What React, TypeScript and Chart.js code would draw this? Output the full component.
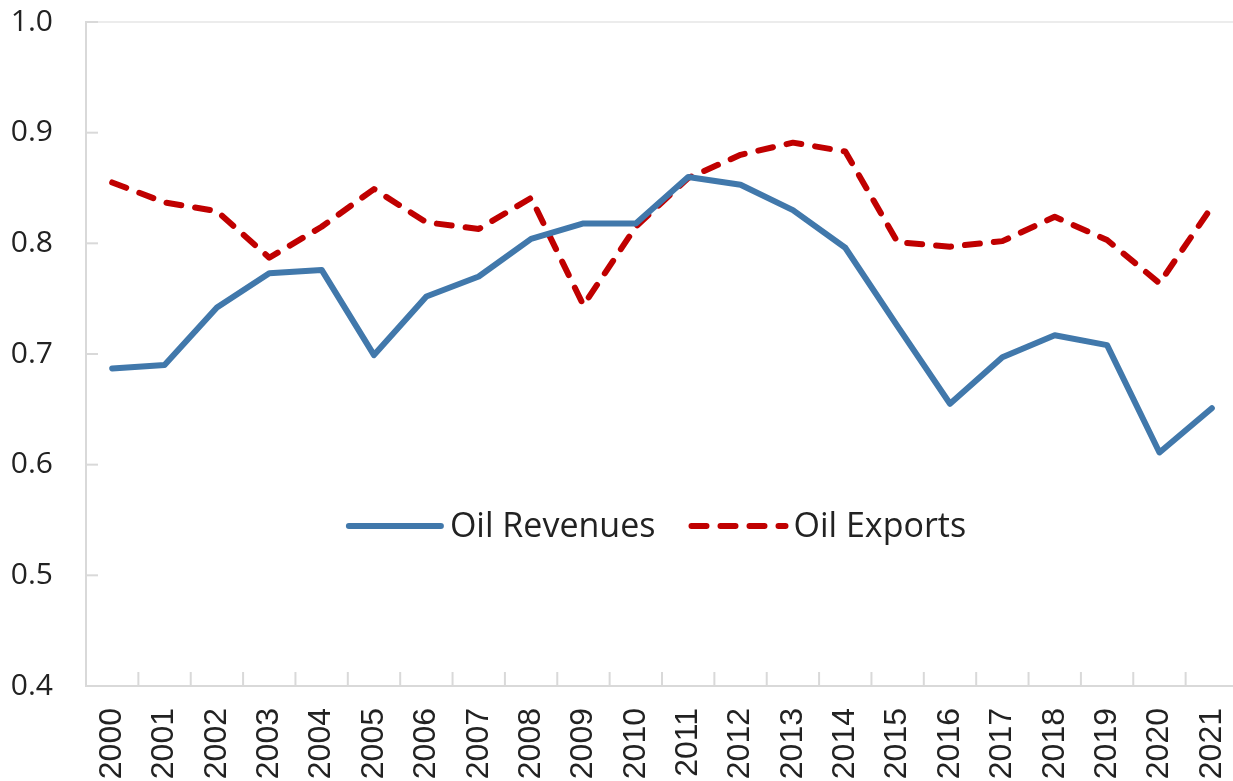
import React, { useEffect, useRef } from "react";
import { Chart, registerables } from "chart.js";

Chart.register(...registerables);

const years = [
  "2000", "2001", "2002", "2003", "2004", "2005", "2006", "2007", "2008", "2009", "2010",
  "2011", "2012", "2013", "2014", "2015", "2016", "2017", "2018", "2019", "2020", "2021",
];

const oilRevenues = [
  0.687, 0.690, 0.742, 0.773, 0.776, 0.699, 0.752, 0.770, 0.804, 0.818, 0.818,
  0.860, 0.853, 0.830, 0.796, 0.725, 0.655, 0.697, 0.717, 0.708, 0.611, 0.651,
];

const oilExports = [
  0.855, 0.837, 0.829, 0.787, 0.815, 0.849, 0.819, 0.813, 0.841, 0.744, 0.815,
  0.859, 0.880, 0.891, 0.883, 0.801, 0.797, 0.802, 0.824, 0.803, 0.764, 0.833,
];

const yMin = 0.4;
const yMax = 1.0;
const yStep = 0.1;

const seriesNames = ["Oil Revenues", "Oil Exports"];
const seriesColors = ["#4178ab", "#c00000"];

const AXIS_COLOR = "#d9d9d9";
const TEXT_COLOR = "#222222";

const decorPlugin = {
  id: "decor",
  beforeDatasetsDraw(chart: any) {
    const { ctx, chartArea, scales } = chart;
    const x = scales.x;
    const y = scales.y;
    ctx.save();
    // faint top border
    ctx.strokeStyle = "#ececec";
    ctx.lineWidth = 2;
    ctx.beginPath();
    ctx.moveTo(chartArea.left, chartArea.top);
    ctx.lineTo(chartArea.right + 10, chartArea.top);
    ctx.stroke();
    // inner ticks on y axis
    ctx.strokeStyle = AXIS_COLOR;
    ctx.lineWidth = 2;
    y.ticks.forEach((t: any) => {
      if (Math.abs(t.value - yMin) < 1e-9) return;
      const py = y.getPixelForValue(t.value);
      ctx.beginPath();
      ctx.moveTo(chartArea.left, py);
      ctx.lineTo(chartArea.left + 12, py);
      ctx.stroke();
    });
    // inner ticks on x axis at category boundaries
    const half = (x.getPixelForValue(1) - x.getPixelForValue(0)) / 2;
    for (let i = 1; i <= years.length; i++) {
      const px = x.getPixelForValue(i) - half;
      ctx.beginPath();
      ctx.moveTo(px, chartArea.bottom);
      ctx.lineTo(px, chartArea.bottom - 14);
      ctx.stroke();
    }
    ctx.restore();
  },
  afterDatasetsDraw(chart: any) {
    const { ctx, chartArea } = chart;
    ctx.save();
    ctx.font = "34px 'Open Sans', sans-serif";
    ctx.textBaseline = "middle";
    ctx.textAlign = "left";
    const lineLen = [98, 100];
    const gapText = [6, 5];
    const gapItems = 33;
    const w0 = ctx.measureText(seriesNames[0]).width;
    const w1 = ctx.measureText(seriesNames[1]).width;
    const total = lineLen[0] + gapText[0] + w0 + gapItems + lineLen[1] + gapText[1] + w1;
    const cx = (chartArea.left + chartArea.right) / 2 - 6;
    const cy = chartArea.top + 504;
    let px = cx - total / 2;
    // item 1
    ctx.strokeStyle = seriesColors[0];
    ctx.lineWidth = 6;
    ctx.lineCap = "round";
    ctx.setLineDash([]);
    ctx.beginPath();
    ctx.moveTo(px + 3, cy);
    ctx.lineTo(px + lineLen[0] - 3, cy);
    ctx.stroke();
    px += lineLen[0] + gapText[0];
    ctx.fillStyle = TEXT_COLOR;
    ctx.fillText(seriesNames[0], px, cy + 1);
    px += w0 + gapItems;
    // item 2
    ctx.strokeStyle = seriesColors[1];
    ctx.setLineDash([15, 14]);
    ctx.beginPath();
    ctx.moveTo(px + 3, cy);
    ctx.lineTo(px + lineLen[1] - 3, cy);
    ctx.stroke();
    ctx.setLineDash([]);
    px += lineLen[1] + gapText[1];
    ctx.fillText(seriesNames[1], px, cy + 1);
    ctx.restore();
  },
};

export default function App() {
  const canvasRef = useRef<HTMLCanvasElement | null>(null);

  useEffect(() => {
    const canvas = canvasRef.current;
    if (!canvas) return;
    const chart = new Chart(canvas, {
      type: "line",
      data: {
        labels: years,
        datasets: [
          {
            label: seriesNames[0],
            data: oilRevenues,
            borderColor: seriesColors[0],
            backgroundColor: seriesColors[0],
            borderWidth: 6,
            pointRadius: 0,
            tension: 0,
            borderJoinStyle: "round",
            borderCapStyle: "round",
            fill: false,
          },
          {
            label: seriesNames[1],
            data: oilExports,
            borderColor: seriesColors[1],
            backgroundColor: seriesColors[1],
            borderWidth: 6,
            borderDash: [15, 14],
            pointRadius: 0,
            tension: 0,
            borderJoinStyle: "round",
            borderCapStyle: "round",
            fill: false,
          },
        ],
      },
      options: {
        responsive: false,
        animation: false,
        devicePixelRatio: 1,
        layout: { padding: { top: 22, right: 2, left: 0, bottom: 0 } },
        plugins: {
          legend: { display: false },
          tooltip: { enabled: false },
        },
        scales: {
          x: {
            type: "category",
            offset: true,
            grid: { display: false, drawTicks: false },
            border: { display: true, color: AXIS_COLOR, width: 2 },
            ticks: {
              autoSkip: false,
              minRotation: 90,
              maxRotation: 90,
              padding: 22,
              color: TEXT_COLOR,
              font: { family: "'Liberation Sans', Arial, sans-serif", size: 32 },
            },
            afterFit: (scale: any) => {
              scale.height = 95;
              scale.paddingLeft = 0;
              scale.paddingRight = 0;
              scale.paddingTop = 0;
              scale.paddingBottom = 0;
            },
          },
          y: {
            min: yMin,
            max: yMax,
            grid: { display: false, drawTicks: false },
            border: { display: true, color: AXIS_COLOR, width: 2 },
            ticks: {
              stepSize: yStep,
              padding: 33,
              color: TEXT_COLOR,
              font: { family: "'Open Sans', sans-serif", size: 30 },
              callback: (v: any) => Number(v).toFixed(1),
            },
            afterFit: (scale: any) => {
              scale.width = 86;
              scale.paddingLeft = 0;
              scale.paddingRight = 0;
              scale.paddingTop = 0;
              scale.paddingBottom = 0;
            },
          },
        },
      },
      plugins: [decorPlugin],
    });
    return () => chart.destroy();
  }, []);

  return (
    <div
      style={{
        position: "fixed",
        left: 0,
        top: 0,
        width: 1233,
        height: 781,
        overflow: "hidden",
        background: "#ffffff",
      }}
    >
      <canvas ref={canvasRef} width={1240} height={781} style={{ display: "block" }} />
    </div>
  );
}
